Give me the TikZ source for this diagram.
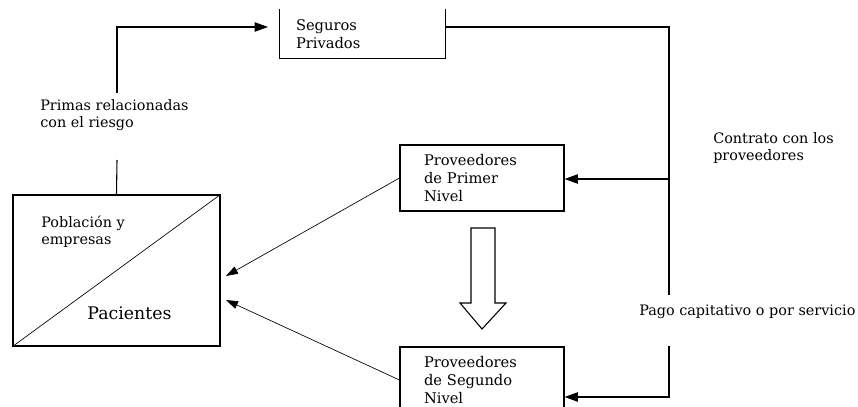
\documentclass[tikz,border=0pt]{standalone}
\usepackage{fontspec}
\newfontfamily\letra{DejaVu Serif}
\usetikzlibrary{arrows.meta}

\begin{document}
\begin{tikzpicture}[x=0.75pt,y=-0.75pt,
    linea/.style={line width=0.8pt},
    caja/.style={draw,linea,align=left,font=\fontsize{11}{13.5}\selectfont\letra,
      inner xsep=18pt,inner ysep=0pt,text width=87pt,minimum height=49.5pt},
    rotulo/.style={align=left,font=\fontsize{10.8}{12.75}\selectfont\letra,inner sep=0pt,anchor=west},
    flecha/.style={linea,-{Triangle[length=10pt,width=7pt]}},
    fina/.style={line width=0.5pt,-{Triangle[length=9pt,width=6pt]}}]
  \useasboundingbox (0,0) rectangle (858,407);
  % cajas
  \node[caja,draw=none,inner xsep=12pt,text width=99.75pt,minimum height=36pt] (seg) at (362.5,34) {Seguros\\Privados};
  \draw[linea] (seg.north west) -- (seg.south west) -- (seg.south east) -- (seg.north east);
  \node[caja] (prim) at (482,178) {Proveedores\\de Primer\\Nivel};
  \node[caja] (seg2) at (482,380) {Proveedores\\de Segundo\\Nivel};
  \node[draw,linea,minimum width=155.25pt,minimum height=113.25pt] (pob) at (116.5,270.5) {};
  \draw[line width=0.5pt] (pob.south west) -- (pob.north east);
  \node[rotulo] (pobtxt) at (41,232) {Población y\\empresas};
  \node[font=\fontsize{13}{15}\selectfont\letra,inner sep=0pt] (pac) at (129.5,313) {Pacientes};
  % rotulos
  \node[rotulo] (primas) at (40,115.5) {Primas relacionadas\\con el riesgo};
  \node[rotulo] (contrato) at (713,148.5) {Contrato con los\\proveedores};
  \node[rotulo] (pago) at (639,312) {Pago capitativo o por servicio};
  % puntos
  \coordinate (pa) at (117,160);
  \coordinate (pb) at (117,93);
  \coordinate (segin) at (268,27);
  \coordinate (ra) at (669,295);
  \coordinate (rb) at (669,346);
  \coordinate (rc) at (669,397);
  \coordinate (ry) at (669,179);
  \coordinate (pin1) at (226,276);
  \coordinate (pin2) at (226,300);
  % conexiones
  \draw[linea] (pob.north) -- (pa);
  \draw[flecha] (pb) |- (segin);
  \draw[linea] (seg.east |- segin) -| (ra);
  \draw[flecha] (ry) -- (ry -| prim.east);
  \draw[flecha] (rb) |- (seg2.east |- rc);
  \draw[fina] (prim.west) -- (pin1);
  \draw[fina] (seg2.west) -- (pin2);
  % flecha hueca
  \draw[linea] (471,228) -- (495,228) -- (495,303) -- (506,303) -- (482,329)
    -- (460,303) -- (471,303) -- cycle;
\end{tikzpicture}
\end{document}
